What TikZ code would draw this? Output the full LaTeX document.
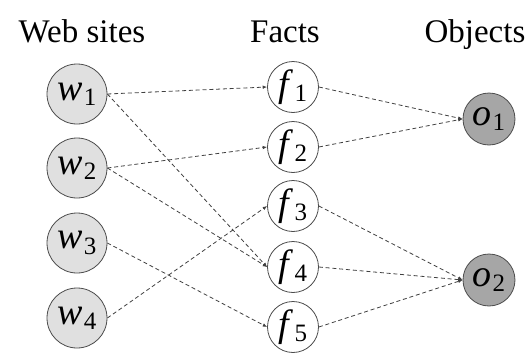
\documentclass[tikz,border=0pt]{standalone}
\usepackage{fontspec}
\setmainfont{Liberation Serif}
\usepackage{tikz}
\usetikzlibrary{arrows.meta}

% italic letter with an upright index
\newcommand{\idx}[2]{\textit{#1}\kern0.5pt\raisebox{-0.3ex}{\fontsize{12.5}{13}\selectfont #2}}

\tikzset{
	site/.style={circle,draw=black!70,fill=black!12,minimum size=30pt,inner sep=0pt,font=\fontsize{19}{20}\selectfont},
	fact/.style={circle,draw=black!70,fill=white,minimum size=25.5pt,inner sep=0pt,font=\fontsize{19}{20}\selectfont},
	object/.style={circle,draw=black!70,fill=black!35,minimum size=26pt,inner sep=0pt,font=\fontsize{19}{20}\selectfont},
	header/.style={anchor=base,font=\fontsize{16.5}{20}\selectfont},
	link/.style={draw=black!75,dash pattern=on 2pt off 1.4pt,-{Latex[length=2.2pt,width=1.8pt]}}
}

\begin{document}
\begin{tikzpicture}[x=0.5pt,y=-0.5pt]
		\useasboundingbox (0,0) rectangle (532,354);

		\node[header] (hw) at (82, 42) {Web sites};
		\node[header] (hf) at (285, 42) {Facts};
		\node[header] (ho) at (475, 42) {Objects};

		\node[site] (w1) at (77, 94)  {\idx{w}{1}};
		\node[site] (w2) at (77, 168) {\idx{w}{2}};
		\node[site] (w3) at (77, 243) {\idx{w}{3}};
		\node[site] (w4) at (77, 318) {\idx{w}{4}};

		\node[fact] (f1) at (293, 87)  {\idx{f}{1}};
		\node[fact] (f2) at (293, 147) {\idx{f}{2}};
		\node[fact] (f3) at (293, 206) {\idx{f}{3}};
		\node[fact] (f4) at (293, 267) {\idx{f}{4}};
		\node[fact] (f5) at (293, 327) {\idx{f}{5}};

		\node[object] (o1) at (489, 119) {\idx{o}{1}};
		\node[object] (o2) at (489, 280) {\idx{o}{2}};

		\begin{scope}[link]
			\draw (w1.east) -- (f1.west);
			\draw (w1.east) -- (f4.west);
			\draw (w2.east) -- (f2.west);
			\draw (w2.east) -- (f4.west);
			\draw (w3.east) -- (f5.west);
			\draw (w4.east) -- (f3.west);

			\draw (f1.east) -- (o1.west);
			\draw (f2.east) -- (o1.west);
			\draw (f3.east) -- (o2.west);
			\draw (f4.east) -- (o2.west);
			\draw (f5.east) -- (o2.west);
		\end{scope}
	\end{tikzpicture}
\end{document}
